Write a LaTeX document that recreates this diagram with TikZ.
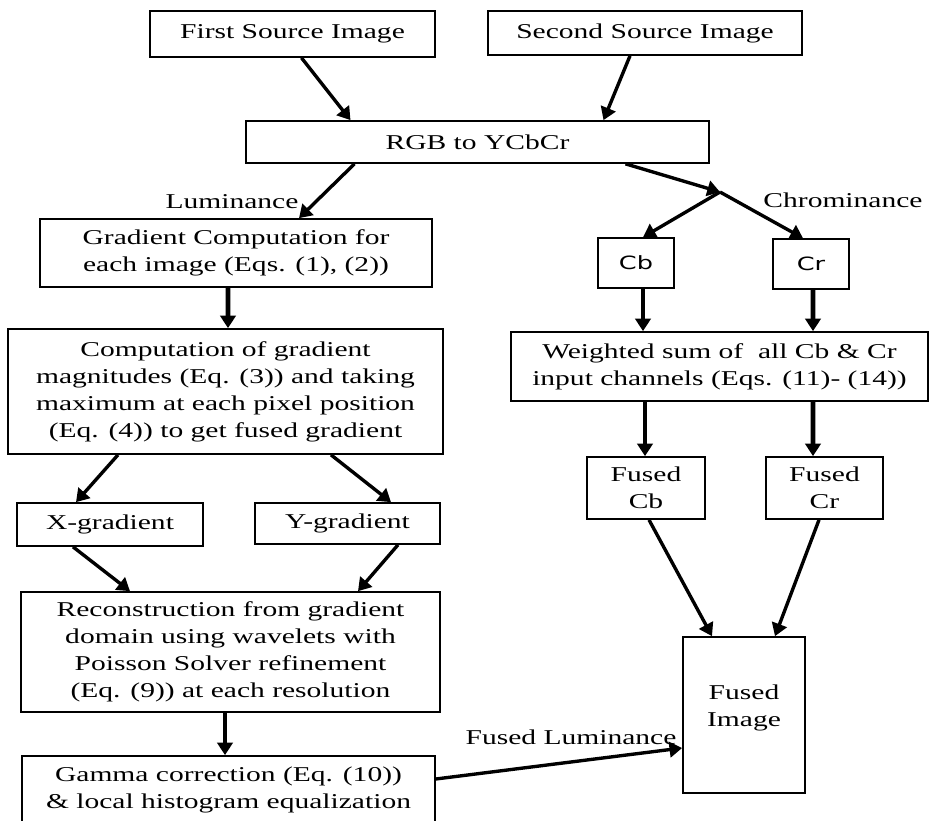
\documentclass[tikz,border=0pt]{standalone}
\usepackage{fontspec}
\setmainfont{Liberation Serif}[FakeStretch=1.4]
\newfontfamily\cbsans{DejaVu Sans}[FakeStretch=1.4]
\usetikzlibrary{arrows.meta,calc}

\begin{document}
\begin{tikzpicture}[x=0.025cm, y=-0.025cm,
        font=\fontsize{15}{19.2}\selectfont,
        blk/.style={draw, line width=1.2pt, align=center, inner sep=0pt},
        boxsize/.style 2 args={minimum width=#1*0.025cm, minimum height=#2*0.025cm},
        chan/.style={blk, font=\cbsans\fontsize{13}{15}\selectfont},
        lbl/.style={inner sep=0pt},
        arr/.style={line width=2.4pt, -{Triangle[length=9pt, width=11pt]}},
        varr/.style={arr, line width=3.4pt}]

    \useasboundingbox (0,0) rectangle (929,821);

    % ---------- sources ----------
    \node[blk, boxsize={285}{46}] (first) at (292.5,34) {First Source Image};
    \node[blk, boxsize={314}{44}] (second) at (645,33) {Second Source Image};
    \node[blk, boxsize={463}{42}] (rgb) at (477.5,142) {RGB to YCbCr};

    % ---------- luminance branch ----------
    \node[lbl] (lum) at (232,202) {Luminance};
    \node[blk, boxsize={392}{68}] (grad) at (236,253) {Gradient Computation for\\each image (Eqs. (1), (2))};
    \node[blk, boxsize={435}{125}] (comp) at (225.5,391.5) {Computation of gradient\\magnitudes (Eq. (3)) and taking\\maximum at each pixel position\\(Eq. (4)) to get fused gradient};
    \node[blk, boxsize={186}{43}] (xg) at (110,524.5) {X-gradient};
    \node[blk, boxsize={185}{41}] (yg) at (347.5,523.5) {Y-gradient};
    \node[blk, boxsize={419}{120}] (recon) at (230.5,652) {Reconstruction from gradient\\domain using wavelets with\\Poisson Solver refinement\\(Eq. (9)) at each resolution};
    \node[blk, boxsize={413}{68}] (gamma) at (228.5,790) {Gamma correction (Eq. (10))\\\& local histogram equalization};

    % ---------- chrominance branch ----------
    \node[lbl] (chrom) at (843,200) {Chrominance};
    \coordinate (branch) at (720,192);
    \node[chan, boxsize={76}{50}] (cb) at (636,263) {Cb};
    \node[chan, boxsize={76}{50}] (cr) at (811,264) {Cr};
    \node[blk, boxsize={417}{69}] (wsum) at (719.5,366.5) {Weighted sum of\ \ all Cb \& Cr\\input channels (Eqs. (11)- (14))};
    \node[blk, boxsize={118}{62}] (fcb) at (646,488) {Fused\\Cb};
    \node[blk, boxsize={117}{62}] (fcr) at (824.5,488) {Fused\\Cr};

    % ---------- output ----------
    \node[blk, boxsize={122}{156}] (fimg) at (744,715) {Fused\\Image\\[-6.4pt]};
    \node[lbl] (fuslum) at (571,737) {Fused Luminance};

    \draw[arr] ($(first.south)+(9,0)$) -- ($(rgb.north)+(-127,0)$);
    \draw[arr] ($(second.south)+(-15,0)$) -- ($(rgb.north)+(126,0)$);
    \draw[arr] ($(rgb.south)+(-123,0)$) -- ($(grad.north)+(63,0)$);
    \draw[arr] ($(rgb.south)+(148,0)$) -- (branch);
    \draw[arr] (branch) -- ($(cb.north)+(7,0)$);
    \draw[arr] (branch) -- ($(cr.north)+(-8,0)$);
    \draw[varr] ($(grad.south)+(-8,0)$) -- ($(comp.north)+(2.5,0)$);
    \draw[varr] ($(cb.south)+(7,0)$) -- ($(wsum.north)+(-76.5,0)$);
    \draw[varr] ($(cr.south)+(2,0)$) -- ($(wsum.north)+(93.5,0)$);
    \draw[varr] ($(wsum.south)+(-74.5,0)$) -- ($(fcb.north)+(-1,0)$);
    \draw[varr] ($(wsum.south)+(93.5,0)$) -- ($(fcr.north)+(-11.5,0)$);
    \draw[arr] ($(comp.south)+(-107.5,0)$) -- ($(xg.north)+(-34,0)$);
    \draw[arr] ($(comp.south)+(105.5,0)$) -- ($(yg.north)+(43.5,0)$);
    \draw[arr] ($(xg.south)+(-37,0)$) -- ($(recon.north)+(-100.5,0)$);
    \draw[arr] ($(yg.south)+(50.5,0)$) -- ($(recon.north)+(127.5,0)$);
    \draw[varr] ($(recon.south)+(-5.5,0)$) -- ($(gamma.north)+(-3.5,0)$);
    \draw[arr] ($(gamma.east)+(0,-11)$) -- ($(fimg.west)+(0,33)$);
    \draw[arr] ($(fcb.south)+(3,0)$) -- ($(fimg.north)+(-32,0)$);
    \draw[arr] ($(fcr.south)+(-5.5,0)$) -- ($(fimg.north)+(31,0)$);
\end{tikzpicture}
\end{document}
